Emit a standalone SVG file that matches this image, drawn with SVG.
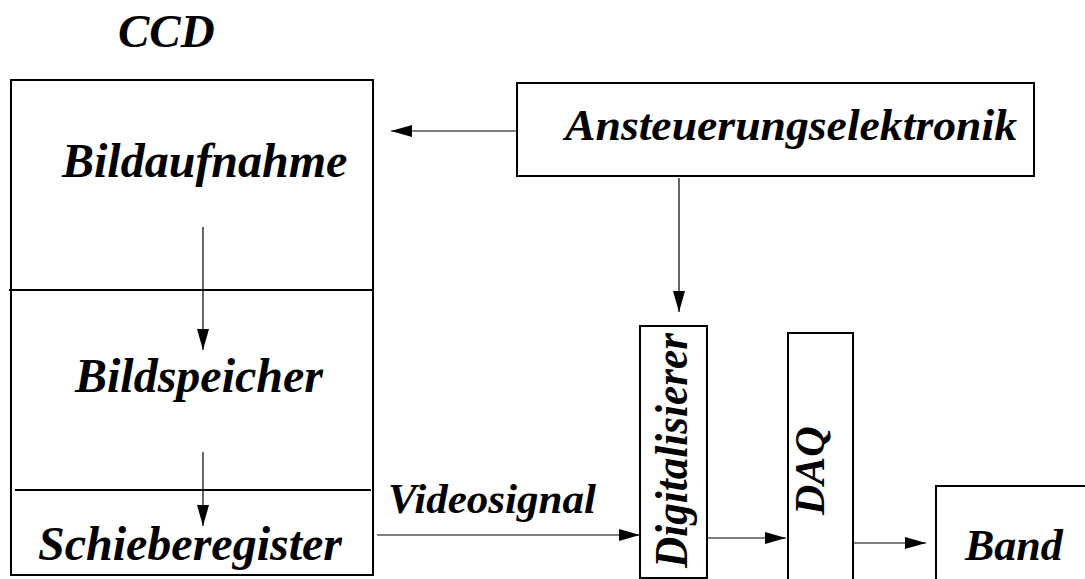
<svg xmlns="http://www.w3.org/2000/svg" width="1085" height="579" viewBox="0 0 1085 579">
<style>
.t{font-family:'Liberation Serif',serif;font-weight:700;font-style:italic;fill:#000}
.box{fill:#fff;stroke:#000;stroke-width:2}
.div{stroke:#000;stroke-width:2;fill:none}
.con{stroke:#000;stroke-width:1.2;fill:none;marker-end:url(#ah)}
</style>
<defs>
<marker id="ah" markerUnits="userSpaceOnUse" markerWidth="22" markerHeight="12" refX="21" refY="6" orient="auto">
<path d="M0,0 L21,6 L0,12 z" fill="#000"/>
</marker>
</defs>
<rect width="1085" height="579" fill="#fff"/>
<g id="ccd">
<text class="t" x="118" y="47" font-size="47">CCD</text>
<rect class="box" x="11" y="80" width="362" height="495"/>
<line class="div" x1="9" y1="290" x2="372" y2="290"/>
<line class="div" x1="15" y1="490" x2="371" y2="490"/>
<text class="t" x="62" y="177" font-size="48">Bildaufnahme</text>
<text class="t" x="75" y="392" font-size="48">Bildspeicher</text>
<text class="t" x="38" y="560" font-size="48">Schieberegister</text>
</g>
<g id="ansteuerung">
<rect class="box" x="517" y="83" width="517" height="93"/>
<text class="t" x="565" y="140" font-size="45" textLength="452" lengthAdjust="spacingAndGlyphs">Ansteuerungselektronik</text>
</g>
<g id="digitalisierer">
<rect class="box" x="640" y="326" width="67" height="252"/>
<text class="t" transform="translate(687,568) rotate(-90)" font-size="47" textLength="235" lengthAdjust="spacingAndGlyphs">Digitalisierer</text>
</g>
<g id="daq">
<rect class="box" x="788" y="333" width="65" height="250"/>
<text class="t" transform="translate(824,515) rotate(-90)" font-size="42">DAQ</text>
</g>
<g id="band">
<rect class="box" x="936" y="486" width="160" height="100"/>
<text class="t" x="965" y="560" font-size="44">Band</text>
</g>
<g id="videosignal-label">
<text class="t" x="388" y="513" font-size="43">Videosignal</text>
</g>
<g id="connectors">
<line class="con" x1="203" y1="227" x2="203" y2="350"/>
<line class="con" x1="203" y1="452" x2="203" y2="526"/>
<line class="con" x1="517" y1="131" x2="391" y2="131"/>
<line class="con" x1="679" y1="178" x2="679" y2="312"/>
<line class="con" x1="377" y1="535" x2="640" y2="535"/>
<line class="con" x1="707" y1="538" x2="786" y2="538"/>
<line class="con" x1="853" y1="543" x2="926" y2="543"/>
</g>
</svg>
